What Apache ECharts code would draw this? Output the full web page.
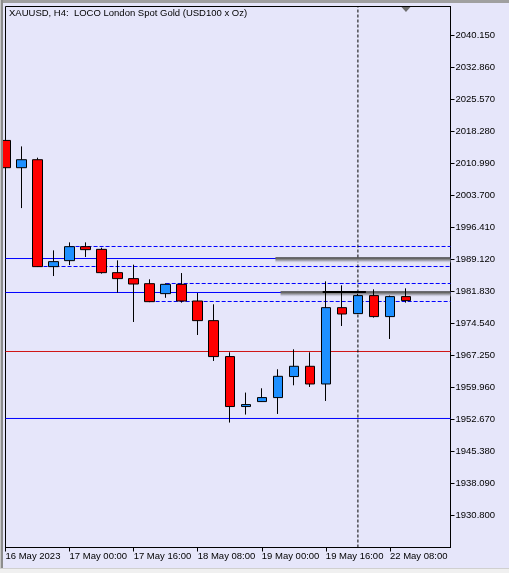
<!DOCTYPE html>
<html><head><meta charset="utf-8">
<script src="https://cdn.jsdelivr.net/npm/echarts@6/dist/echarts.min.js"></script>
<style>
html,body{margin:0;padding:0;background:#E6E6FA;overflow:hidden;}
#c{position:absolute;left:0;top:0;width:509px;height:573px;}
.f{position:absolute;}
</style></head><body>
<div id="c"></div>
<div class="f" style="left:0;top:0;width:509px;height:3px;background:#a0a0a0"></div>
<div class="f" style="left:0;top:0;width:1px;height:573px;background:#c8c8c8"></div>
<div class="f" style="left:1px;top:0;width:2px;height:573px;background:#8c8c8c"></div>
<div class="f" style="left:0;top:568px;width:509px;height:5px;background:#f0f0f0;border-top:1px solid #d0d0d0"></div>
<script>
// ---- data ----
const barTimes = ['16 May 08:00','16 May 12:00','16 May 16:00','16 May 20:00','17 May 00:00','17 May 04:00','17 May 08:00','17 May 12:00','17 May 16:00','17 May 20:00','18 May 00:00','18 May 04:00','18 May 08:00','18 May 12:00','18 May 16:00','18 May 20:00','19 May 00:00','19 May 04:00','19 May 08:00','19 May 12:00','19 May 16:00','19 May 20:00','22 May 00:00','22 May 04:00','22 May 08:00','22 May 12:00'];
const opens  = [2016.24,2010.03,2011.85,1987.49,1988.86,1992.04,1991.43,1986.12,1984.76,1983.61,1981.34,1983.46,1979.66,1975.19,1967.00,1955.62,1956.75,1957.66,1962.45,1964.79,1960.76,1978.15,1976.79,1980.89,1976.11,1980.66];
const closes = [2010.03,2011.85,1987.49,1988.63,1992.04,1991.36,1986.12,1984.76,1983.53,1979.51,1983.46,1979.66,1975.19,1967.00,1955.62,1956.07,1957.66,1962.51,1964.79,1960.76,1978.15,1976.70,1980.89,1976.11,1980.66,1979.75];
const lows   = [2009.60,2000.83,1987.40,1985.35,1987.85,1989.68,1985.90,1981.57,1974.88,1979.40,1980.39,1979.29,1971.92,1966.00,1951.97,1953.79,1956.70,1953.93,1960.46,1960.08,1956.89,1973.97,1976.70,1975.88,1971.01,1979.29];
const highs  = [2017.50,2014.88,2012.31,1991.20,1993.02,1993.02,1991.81,1988.92,1987.94,1984.60,1983.69,1986.03,1981.48,1978.91,1967.98,1958.80,1959.78,1964.11,1968.66,1967.98,1984.14,1983.23,1981.30,1982.32,1980.90,1982.55];

const xTickIdx = [0,4,8,12,16,20,24];
const xTickLabels = ['16 May 2023','17 May 00:00','17 May 16:00','18 May 08:00','19 May 00:00','19 May 16:00','22 May 08:00'];
const yTicks = [1930.80,1938.09,1945.38,1952.67,1959.96,1967.25,1974.54,1981.83,1989.12,1996.41,2003.70,2010.99,2018.28,2025.57,2032.86,2040.15];

const yMin = 1923.51, yMax = 2046.75;
const xMin = 0, xMax = 27.78;

// horizontal levels
const solidLevels = [1989.34, 1981.60, 1952.90];
const redLevel = [1968.16];
const dashedLevels = [1992.08, 1987.52, 1983.65, 1979.55];
const dashedStarts = [4, 2, 10, 9];
const separatorIdx = [22];
// shaded bands: start index, top value, bottom value
const bandStarts = [16.85, 17.17];
const bandTops = [1989.61, 1981.87];
const bandBottoms = [1988.24, 1980.50];
const blackSeg = [19.8, 22.5, 1981.71];
const shiftMarkIdx = [25];
const titleText = 'XAUUSD, H4:  LOCO London Spot Gold (USD100 x Oz)';

// ---- build ----
const FONT = 'Liberation Sans';
const candleData = opens.map((o, i) => [i, o, closes[i], lows[i], highs[i]]);

const series = [];
solidLevels.forEach(v => series.push({
  type: 'line', data: [[xMin, v], [xMax, v]], symbol: 'none', silent: true, z: 2,
  lineStyle: { color: '#0000ff', width: 1 }
}));
redLevel.forEach(v => series.push({
  type: 'line', data: [[xMin, v], [xMax, v]], symbol: 'none', silent: true, z: 2,
  lineStyle: { color: '#d01414', width: 1 }
}));
dashedLevels.forEach((v, k) => series.push({
  type: 'line', data: [[dashedStarts[k], v], [xMax, v]], symbol: 'none', silent: true, z: 2,
  lineStyle: { color: '#0000ff', width: 1, type: [4, 2] }
}));
separatorIdx.forEach(ix => series.push({
  type: 'line', data: [[ix, yMin], [ix, yMax]], symbol: 'none', silent: true, z: 2,
  lineStyle: { color: '#000', width: 1, type: [3, 2] }
}));
series.push({
  type: 'line', data: [], silent: true, z: 3,
  markArea: {
    silent: true, z: 3,
    itemStyle: {
      color: { type: 'linear', x: 0, y: 0, x2: 0, y2: 1, colorStops: [
        { offset: 0, color: '#3a3a3a' }, { offset: 0.3, color: '#7a7a7a' },
        { offset: 0.6, color: '#b4b4c4' }, { offset: 1, color: 'rgba(230,230,250,0)' }] }
    },
    data: bandStarts.map((s, k) => [{ coord: [s, bandTops[k]] }, { coord: [xMax, bandBottoms[k]] }])
  }
});
series.push({
  type: 'line', data: [[blackSeg[0], blackSeg[2]], [blackSeg[1], blackSeg[2]]], symbol: 'none', silent: true, z: 4,
  lineStyle: { color: '#000', width: 2 }
});
series.push({
  type: 'candlestick', data: candleData, barWidth: 10, z: 5, clip: true,
  itemStyle: { color: '#1E90FF', color0: '#FF0000', borderColor: '#000', borderColor0: '#000', borderWidth: 1 },
  markPoint: {
    silent: true, label: { show: false },
    data: shiftMarkIdx.map(ix => ({ coord: [ix, yMax], symbol: 'triangle', symbolRotate: 180, symbolSize: [9, 5], symbolOffset: [0, 3], itemStyle: { color: '#6e6e6e' } }))
  }
});

const chart = echarts.init(document.getElementById('c'), null, { renderer: 'canvas' });
chart.setOption({
  animation: false,
  backgroundColor: '#E6E6FA',
  title: { text: titleText, left: 9, top: 8, padding: 0,
    textStyle: { fontSize: 9.5, fontWeight: 'normal', fontFamily: FONT, color: '#000' } },
  grid: { left: 5.5, top: 6.5, right: 58.5, bottom: 25.5, show: true, borderColor: '#000', borderWidth: 1, backgroundColor: '#E6E6FA' },
  xAxis: {
    type: 'value', min: xMin, max: xMax, position: 'bottom',
    axisLine: { show: true, onZero: false, lineStyle: { color: '#000', width: 1 } },
    axisTick: { show: true, customValues: xTickIdx, length: 4, lineStyle: { color: '#000' } },
    axisLabel: { customValues: xTickIdx, formatter: v => xTickLabels[xTickIdx.indexOf(v)] || '',
      align: 'left', margin: 4, fontSize: 9.5, fontFamily: FONT, color: '#000' },
    splitLine: { show: false }
  },
  yAxis: {
    type: 'value', min: yMin, max: yMax, position: 'right',
    axisLine: { show: true, onZero: false, lineStyle: { color: '#000', width: 1 } },
    axisTick: { show: true, customValues: yTicks, length: 4, lineStyle: { color: '#000' } },
    axisLabel: { customValues: yTicks, formatter: v => Number(v).toFixed(3),
      margin: 5, fontSize: 9.5, fontFamily: FONT, color: '#000' },
    splitLine: { show: false }
  },
  series: series
});
</script>
</body></html>
